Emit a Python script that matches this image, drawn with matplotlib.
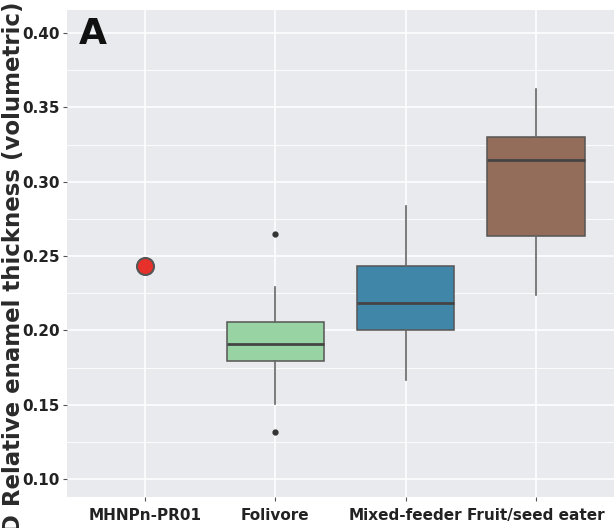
import matplotlib
matplotlib.use('Agg')
import matplotlib.pyplot as plt
from matplotlib.ticker import MultipleLocator

# categories and values
categories = ['MHNPn-PR01', 'Folivore', 'Mixed-feeder', 'Fruit/seed eater']
specimen_value = 0.2432

box_groups = ['Folivore', 'Mixed-feeder', 'Fruit/seed eater']
whisk_low = [0.1503, 0.1665, 0.2237]
q1 = [0.1791, 0.2001, 0.2634]
median = [0.1905, 0.2185, 0.3145]
q3 = [0.2053, 0.2432, 0.3302]
whisk_high = [0.2289, 0.2838, 0.3621]
outliers = [[0.2647, 0.1317], [], []]

box_colors = ['#97d3a3', '#3f86a8', '#936d59']

fig = plt.figure(figsize=(6.16, 5.28), dpi=100)
ax = fig.add_axes([0.1088, 0.0587, 0.888, 0.9223])
ax.set_facecolor('#e9eaee')

# grid
ax.yaxis.set_major_locator(MultipleLocator(0.05))
ax.yaxis.set_minor_locator(MultipleLocator(0.025))
ax.grid(which='major', color='white', linewidth=1.1)
ax.grid(which='minor', axis='y', color='white', linewidth=0.6)
ax.set_axisbelow(True)
for s in ax.spines.values():
    s.set_visible(False)

stats = []
for i, name in enumerate(box_groups):
    stats.append(dict(label=name, whislo=whisk_low[i], q1=q1[i], med=median[i],
                      q3=q3[i], whishi=whisk_high[i], fliers=outliers[i]))

positions = [categories.index(g) for g in box_groups]
bp = ax.bxp(stats, positions=positions, widths=0.75, patch_artist=True,
            showcaps=False,
            boxprops=dict(edgecolor='#555555', linewidth=1.1),
            medianprops=dict(color='#444444', linewidth=2.0),
            whiskerprops=dict(color='#666666', linewidth=1.2),
            flierprops=dict(marker='o', markerfacecolor='#333333',
                            markeredgecolor='#333333', markersize=3.5))
for patch, c in zip(bp['boxes'], box_colors):
    patch.set_facecolor(c)

# the specimen point
ax.scatter([categories.index('MHNPn-PR01')], [specimen_value], s=150,
           color='#e8302a', edgecolors='#555555', linewidths=1.5, zorder=5)

ax.set_xlim(-0.6, 3.6)
ax.set_ylim(0.0879, 0.4155)
ax.set_xticks(range(len(categories)))
ax.set_xticklabels(categories)
ax.tick_params(axis='both', which='major', length=3, color='#555555',
               labelsize=11, labelcolor='#222222', pad=2)
ax.tick_params(axis='x', pad=5)
ax.tick_params(axis='y', which='minor', length=0)
for lab in ax.get_xticklabels() + ax.get_yticklabels():
    lab.set_fontweight('bold')
ax.set_yticks([0.10, 0.15, 0.20, 0.25, 0.30, 0.35, 0.40])
ax.set_yticklabels(['0.10', '0.15', '0.20', '0.25', '0.30', '0.35', '0.40'])

fig.text(0.022, 0.478, '3D Relative enamel thickness (volumetric)',
         rotation=90, ha='center', va='center', fontsize=16.5,
         fontweight='bold', color='#2a2a2a')

ax.text(0.022, 0.985, 'A', transform=ax.transAxes, fontsize=26,
        fontweight='bold', ha='left', va='top', color='#111111')

fig.savefig('out.png', dpi=100)
